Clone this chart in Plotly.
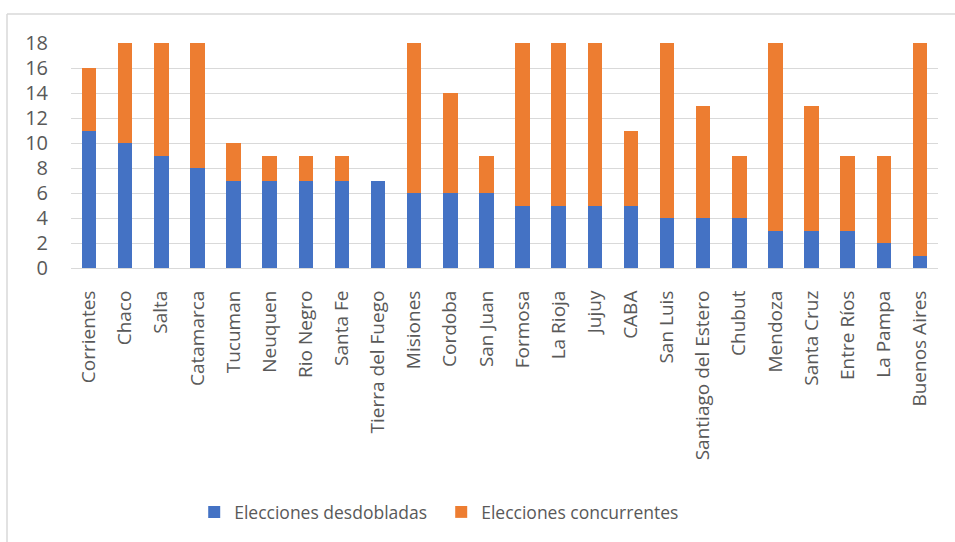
import plotly.graph_objects as go

provincias = ["Corrientes", "Chaco", "Salta", "Catamarca", "Tucuman", "Neuquen", "Rio Negro",
              "Santa Fe", "Tierra del Fuego", "Misiones", "Cordoba", "San Juan", "Formosa",
              "La Rioja", "Jujuy", "CABA", "San Luis", "Santiago del Estero", "Chubut",
              "Mendoza", "Santa Cruz", "Entre Ríos", "La Pampa", "Buenos Aires"]
desdobladas = [11, 10, 9, 8, 7, 7, 7, 7, 7, 6, 6, 6, 5, 5, 5, 5, 4, 4, 4, 3, 3, 3, 2, 1]
concurrentes = [5, 8, 9, 10, 3, 2, 2, 2, 0, 12, 8, 3, 13, 13, 13, 6, 14, 9, 5, 15, 10, 6, 7, 17]
y_ticks = [0, 2, 4, 6, 8, 10, 12, 14, 16, 18]

FONT = "Open Sans"
GRAY = "#595959"

fig = go.Figure()
fig.add_trace(go.Bar(x=provincias, y=desdobladas, name="Elecciones desdobladas",
                     marker=dict(color="#4472C4", line=dict(width=0))))
fig.add_trace(go.Bar(x=provincias, y=concurrentes, name="Elecciones concurrentes",
                     marker=dict(color="#ED7D31", line=dict(width=0))))

# plot area: x 71..938, y 43..268
L, R, T, B = 71, 938, 43, 268
W, H = R - L, B - T
def px(x): return (x - L) / W
def py(y): return (B - y) / H

fig.update_layout(
    width=955, height=542,
    margin=dict(l=L, r=955 - R, t=T, b=542 - B),
    barmode="stack", bargap=0.6,
    plot_bgcolor="white", paper_bgcolor="white",
    font=dict(family=FONT, color=GRAY, size=19),
    xaxis=dict(tickangle=-90, tickfont=dict(size=19, color=GRAY), showgrid=False,
               showline=True, linecolor="#d9d9d9", linewidth=1, ticks="", automargin=False,
               ticklabelstandoff=14),
    yaxis=dict(range=[0, 18], tickvals=y_ticks, tickfont=dict(size=20, color=GRAY),
               showgrid=True, gridcolor="#d9d9d9", gridwidth=1, zeroline=False,
               ticks="", ticklabelstandoff=22, automargin=False, fixedrange=True),
    legend=dict(orientation="h", xref="container", yref="container", x=0.462, xanchor="center",
                y=1 - 512 / 542, yanchor="middle", font=dict(size=17.5, color=GRAY),
                entrywidth=202, itemwidth=30, traceorder="normal"),
    shapes=[
        dict(type="line", xref="paper", yref="paper", x0=px(7), x1=px(960), y0=py(14), y1=py(14),
             line=dict(color="#d9d9d9", width=1.5)),
        dict(type="line", xref="paper", yref="paper", x0=px(7), x1=px(7), y0=py(14), y1=py(560),
             line=dict(color="#d9d9d9", width=1.5)),
    ],
)

fig.write_html("out.html")
